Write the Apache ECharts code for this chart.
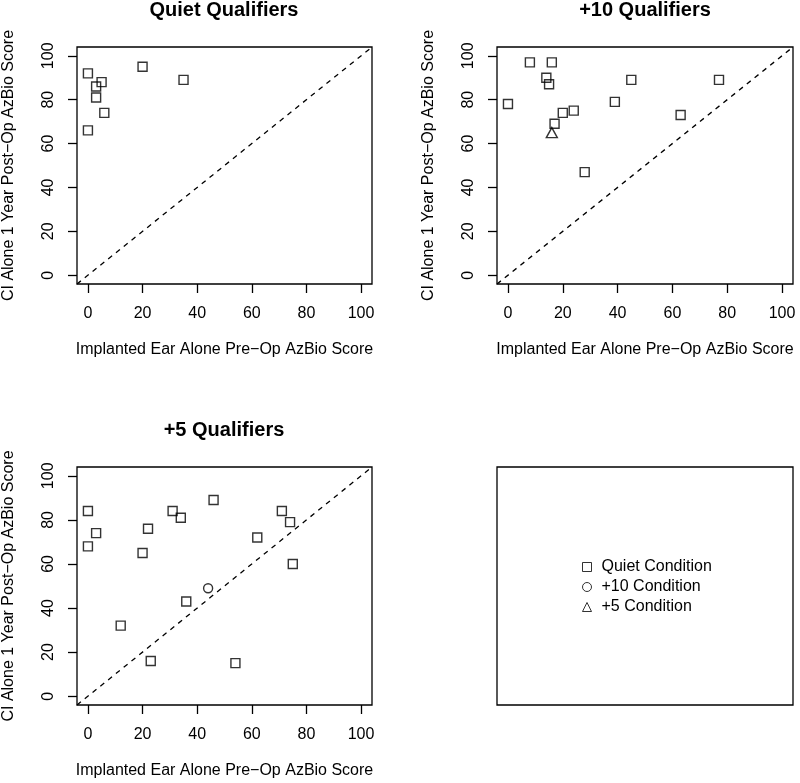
<!DOCTYPE html>
<html>
<head>
<meta charset="utf-8">
<script src="https://cdn.jsdelivr.net/npm/echarts@6/dist/echarts.min.js"></script>
<style>
html,body{margin:0;padding:0;background:#fff;}
#c{width:800px;height:783px;}
</style>
</head>
<body>
<div id="c"></div>
<script>
// ---- data ----
const panelTitles = ["Quiet Qualifiers", "+10 Qualifiers", "+5 Qualifiers"];
const tickValues = [0, 20, 40, 60, 80, 100];
const xTitle = "Implanted Ear Alone Pre\u2212Op AzBio Score";
const yTitle = "CI Alone 1 Year Post\u2212Op AzBio Score";
const legendNames = ["Quiet Condition", "+10 Condition", "+5 Condition"];

// Quiet Qualifiers panel (quiet condition)
const quietPanelQuiet = [[0,92],[20,95],[35,89],[5,88],[3,86],[3,81],[6,74],[0,66]];
// +10 Qualifiers panel
const plus10PanelQuiet = [[0,78],[8,97],[16,97],[14,90],[15,87],[45,89],[77,89],[39,79],[20,74],[24,75],[17,69],[63,73],[28,47]];
const plus10PanelPlus5 = [[16,65]];
// +5 Qualifiers panel
const plus5PanelQuiet = [[0,84],[0,68],[3,74],[12,32],[20,65],[22,76],[31,84],[34,81],[46,89],[36,43],[23,16],[54,15],[62,72],[71,84],[74,79],[75,60]];
const plus5PanelPlus10 = [[44,49]];

// identity reference line end points (axis range)
const axisMin = -4, axisMax = 104;
const diagonal = [[axisMin, axisMin], [axisMax, axisMax]];

// ---- layout ----
const FONT = "'Liberation Sans', Arial, Helvetica, sans-serif";
const grids = [
  {left: 76, top: 47, width: 296, height: 237},
  {left: 497, top: 47, width: 296, height: 237},
  {left: 76, top: 467, width: 296, height: 238},
  {left: 497, top: 467, width: 296, height: 238}
];

const gridOpts = grids.map(g => Object.assign({
  show: true, borderColor: '#000', borderWidth: 1.3, backgroundColor: 'transparent', containLabel: false
}, g));

function xAxis(i, showIt) {
  return {
    type: 'value', gridIndex: i, min: axisMin, max: axisMax, show: showIt,
    name: xTitle, nameLocation: 'middle', nameGap: 58,
    nameTextStyle: {fontFamily: FONT, fontSize: 16, color: '#000'},
    axisLine: {show: false, onZero: false},
    axisTick: {show: true, length: 9, inside: false, customValues: tickValues, lineStyle: {color: '#000', width: 1.3}},
    axisLabel: {show: true, customValues: tickValues, margin: 22, fontFamily: FONT, fontSize: 16, color: '#000'},
    splitLine: {show: false}
  };
}
function yAxis(i, showIt) {
  return {
    type: 'value', gridIndex: i, min: axisMin, max: axisMax, show: showIt,
    name: yTitle, nameLocation: 'middle', nameGap: 60, nameRotate: 90,
    nameTextStyle: {fontFamily: FONT, fontSize: 16, color: '#000'},
    axisLine: {show: false, onZero: false},
    axisTick: {show: true, length: 9, inside: false, customValues: tickValues, lineStyle: {color: '#000', width: 1.3}},
    axisLabel: {show: true, customValues: tickValues, rotate: 90, margin: 20, fontFamily: FONT, fontSize: 16, color: '#000'},
    splitLine: {show: false}
  };
}

const hollow = {color: 'rgba(0,0,0,0)', borderColor: '#000', borderWidth: 1.4};
function pts(name, idx, data, symbol, size) {
  return {
    type: 'scatter', name: name, xAxisIndex: idx, yAxisIndex: idx, data: data,
    symbol: symbol, symbolSize: size, itemStyle: hollow, silent: true,
    emphasis: {disabled: true}, z: 3
  };
}
function diag(idx) {
  return {
    type: 'line', xAxisIndex: idx, yAxisIndex: idx, data: diagonal, symbol: 'none', silent: true,
    lineStyle: {color: '#000', width: 1.3, type: [5, 5]}, emphasis: {disabled: true}, z: 2, clip: true
  };
}

const centers = grids.map(g => g.left + g.width / 2);
const option = {
  animation: false,
  backgroundColor: '#fff',
  title: [
    {text: panelTitles[0], left: centers[0], top: 0, textAlign: 'center', padding: 0,
     textStyle: {fontFamily: FONT, fontSize: 20, fontWeight: 'bold', color: '#000'}},
    {text: panelTitles[1], left: centers[1], top: 0, textAlign: 'center', padding: 0,
     textStyle: {fontFamily: FONT, fontSize: 20, fontWeight: 'bold', color: '#000'}},
    {text: panelTitles[2], left: centers[2], top: 420, textAlign: 'center', padding: 0,
     textStyle: {fontFamily: FONT, fontSize: 20, fontWeight: 'bold', color: '#000'}}
  ],
  legend: {
    data: legendNames, orient: 'vertical', left: 582, top: 559, padding: 0,
    itemWidth: 9, itemHeight: 9, itemGap: 4, selectedMode: false,
    itemStyle: {color: 'rgba(0,0,0,0)', borderColor: '#000', borderWidth: 1},
    textStyle: {fontFamily: FONT, fontSize: 16, color: '#000', lineHeight: 16, padding: [0, 0, 0, 5]}
  },
  grid: gridOpts,
  xAxis: [xAxis(0, true), xAxis(1, true), xAxis(2, true), xAxis(3, false)],
  yAxis: [yAxis(0, true), yAxis(1, true), yAxis(2, true), yAxis(3, false)],
  series: [
    diag(0), diag(1), diag(2),
    pts(legendNames[0], 0, quietPanelQuiet, 'rect', 9),
    pts(legendNames[0], 1, plus10PanelQuiet, 'rect', 9),
    pts(legendNames[2], 1, plus10PanelPlus5, 'triangle', [11, 10]),
    pts(legendNames[0], 2, plus5PanelQuiet, 'rect', 9),
    pts(legendNames[1], 2, plus5PanelPlus10, 'circle', 9)
  ]
};

const chart = echarts.init(document.getElementById('c'), null, {renderer: 'canvas'});
chart.setOption(option);
</script>
</body>
</html>
